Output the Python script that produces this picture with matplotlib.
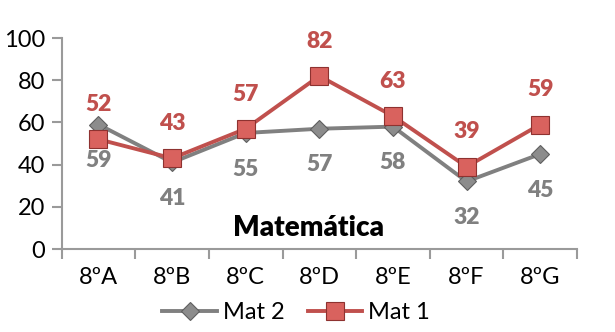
import matplotlib
matplotlib.use("Agg")
from matplotlib import pyplot as plt

plt.rcParams['font.family'] = ['Lato', 'DejaVu Sans']

classes = ["8ºA", "8ºB", "8ºC", "8ºD", "8ºE", "8ºF", "8ºG"]
mat2 = [59, 41, 55, 57, 58, 32, 45]
mat1 = [52, 43, 57, 82, 63, 39, 59]
yticks = [0, 20, 40, 60, 80, 100]

red = "#C0504D"
gray = "#808080"

fig = plt.figure(figsize=(6.15, 3.32), dpi=100)
ax = fig.add_axes([0.1003, 0.25, 0.8379, 0.6355])

x = list(range(len(classes)))
ax.plot(x, mat2, '-D', color=gray, lw=2.8, ms=9, mfc="#8C8C8C", mec="#5F5F5F", mew=0.8, label="Mat 2", zorder=3)
ax.plot(x, mat1, '-s', color=red, lw=2.8, ms=13, mfc="#D9625E", mec="#8E3230", mew=0.8, label="Mat 1", zorder=4)

for i in x:
    ax.annotate(str(mat1[i]), (i, mat1[i]), xytext=(0, 25), textcoords="offset points",
                ha="center", va="center", color=red, fontsize=16.5, fontweight="heavy")
    ax.annotate(str(mat2[i]), (i, mat2[i]), xytext=(0, -26), textcoords="offset points",
                ha="center", va="center", color=gray, fontsize=16.5, fontweight="heavy")

ax.text(0.478, 0.1, "Matemática", transform=ax.transAxes, ha="center", va="center",
        fontsize=20, fontweight="heavy", color="black")

ax.set_xlim(-0.5, len(classes) - 0.5)
ax.set_ylim(0, 100)
ax.set_yticks(yticks)
ax.set_xticks(x)
ax.set_xticklabels(classes)
ax.set_xticks([i - 0.5 for i in range(len(classes) + 1)], minor=True)
ax.tick_params(axis="x", which="major", length=0, pad=13, labelsize=17)
ax.tick_params(axis="x", which="minor", length=7, color="#9A9A9A", width=1.5)
ax.tick_params(axis="y", length=7, color="#9A9A9A", width=1.5, labelsize=17, pad=5)

for s in ["top", "right"]:
    ax.spines[s].set_visible(False)
for s in ["left", "bottom"]:
    ax.spines[s].set_color("#9A9A9A")
    ax.spines[s].set_linewidth(1.5)

ax.legend(loc="center", bbox_to_anchor=(0.455, -0.3), ncol=2, frameon=False,
          fontsize=17, handlelength=2.3, columnspacing=1.0, handletextpad=0.25)

plt.savefig("out.png")
